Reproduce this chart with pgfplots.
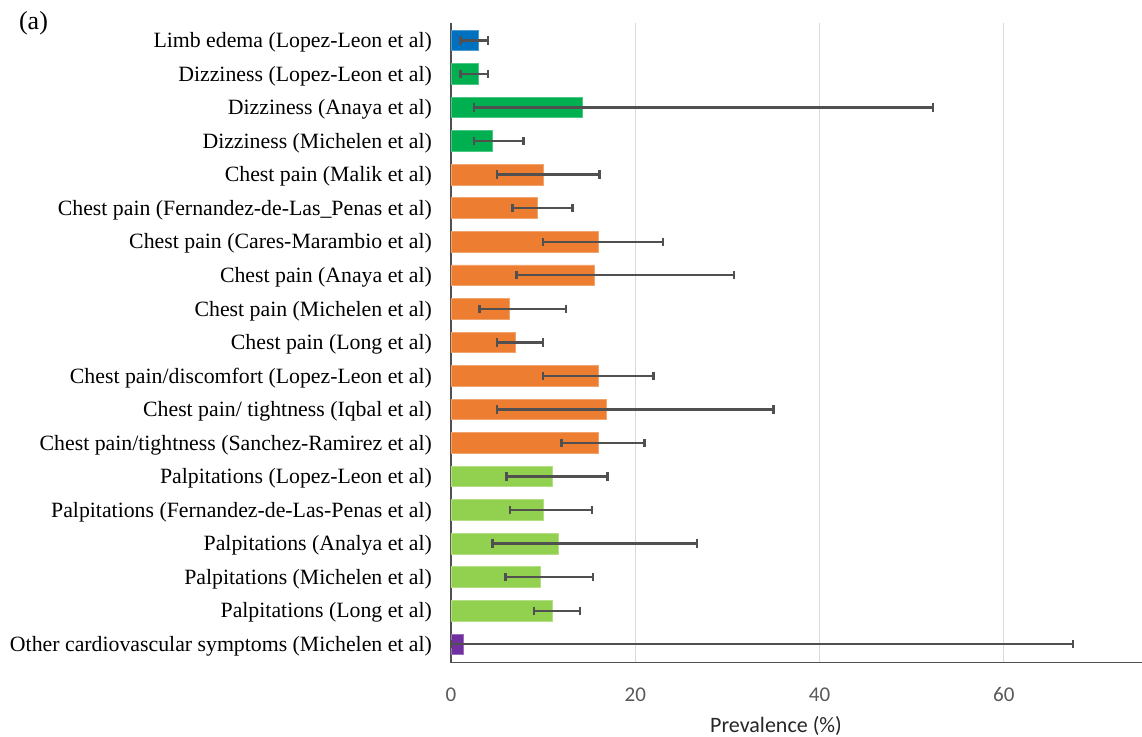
\documentclass[border=0pt]{standalone}
\usepackage{fontspec}
\setmainfont{Liberation Serif}
\newfontfamily\calib{Carlito}
\usepackage{pgfplots}
\pgfplotsset{compat=1.18}
\definecolor{cblue}{HTML}{0070C0}
\definecolor{cgreen}{HTML}{00B050}
\definecolor{corange}{HTML}{ED7D31}
\definecolor{clgreen}{HTML}{92D050}
\definecolor{cpurple}{HTML}{7030A0}
\definecolor{errc}{HTML}{505050}
\definecolor{gridc}{HTML}{D9D9D9}
\definecolor{tickc}{HTML}{595959}
\begin{document}
\begin{tikzpicture}
\path[use as bounding box] (-225.5pt,-37.15pt) rectangle (345.5pt,331.35pt);
\begin{axis}[
  at={(0,0)}, anchor=south west,
  scale only axis, width=345.5pt, height=320pt,
  xmin=0, xmax=75, ymin=-0.53, ymax=18.55, y dir=reverse,
  axis lines*=left,
  axis line style={draw=errc, line width=0.8pt, -},
  xtick={0,20,40,60}, xmajorgrids, grid style={gridc, line width=0.7pt},
  major tick length=0pt,
  ytick={0,...,18},
  yticklabels={
    Limb edema (Lopez-Leon et al),
    Dizziness (Lopez-Leon et al),
    Dizziness (Anaya et al),
    Dizziness (Michelen et al),
    Chest pain (Malik et al),
    Chest pain (Fernandez-de-Las\_Penas et al),
    Chest pain (Cares-Marambio et al),
    Chest pain (Anaya et al),
    Chest pain (Michelen et al),
    Chest pain (Long et al),
    Chest pain/discomfort (Lopez-Leon et al),
    Chest pain/ tightness (Iqbal et al),
    Chest pain/tightness (Sanchez-Ramirez et al),
    Palpitations (Lopez-Leon et al),
    Palpitations (Fernandez-de-Las-Penas et al),
    Palpitations (Analya et al),
    Palpitations (Michelen et al),
    Palpitations (Long et al),
    Other cardiovascular symptoms (Michelen et al)},
  yticklabel style={font=\fontsize{10.9}{13}\selectfont, text=black, xshift=-6pt, yshift=-1pt},
  xticklabel style={font=\calib\fontsize{10.5}{12}\selectfont, text=tickc, yshift=-9pt},
  /pgf/number format/assume math mode=true,
  xbar, bar width=10.3pt, bar shift=0pt,
  error bars/x dir=both, error bars/x explicit,
  error bars/error mark options={rotate=90, mark size=2.1pt, line width=1.3pt, errc},
  error bars/error bar style={line width=1.2pt, errc},
  clip=false,
]
\addplot[fill=cblue, draw=cblue!70!white] table[x=x, y=y, x error plus=ep, x error minus=em] {
y x ep em
0 3.0 1.0 2.0
};
\addplot[fill=cgreen, draw=cgreen!70!white] table[x=x, y=y, x error plus=ep, x error minus=em] {
y x ep em
1 3.0 1.0 2.0
2 14.3 38.0 11.8
3 4.5 3.4 2.0
};
\addplot[fill=corange, draw=corange!70!white] table[x=x, y=y, x error plus=ep, x error minus=em] {
y x ep em
4 10.0 6.1 5.0
5 9.35 3.85 2.65
6 16.0 7.0 6.0
7 15.6 15.1 8.5
8 6.3 6.2 3.2
9 7.0 3.0 2.0
10 16.0 6.0 6.0
11 16.9 18.1 11.9
12 16.0 5.0 4.0
};
\addplot[fill=clgreen, draw=clgreen!70!white] table[x=x, y=y, x error plus=ep, x error minus=em] {
y x ep em
13 11.0 6.0 5.0
14 10.0 5.3 3.6
15 11.7 15.0 7.2
16 9.7 5.7 3.8
17 11.0 3.0 2.0
};
\addplot[fill=cpurple, draw=cpurple!70!white] table[x=x, y=y, x error plus=ep, x error minus=em] {
y x ep em
18 1.4 66.1 1.4
};
\end{axis}
\node[font=\calib\fontsize{11}{13}\selectfont, text=black!85] at (162.5pt,-31.5pt) {Prevalence (\%)};
\node[font=\fontsize{13}{15}\selectfont, anchor=north west] at (-219.5pt,329pt) {(a)};
\end{tikzpicture}
\end{document}
